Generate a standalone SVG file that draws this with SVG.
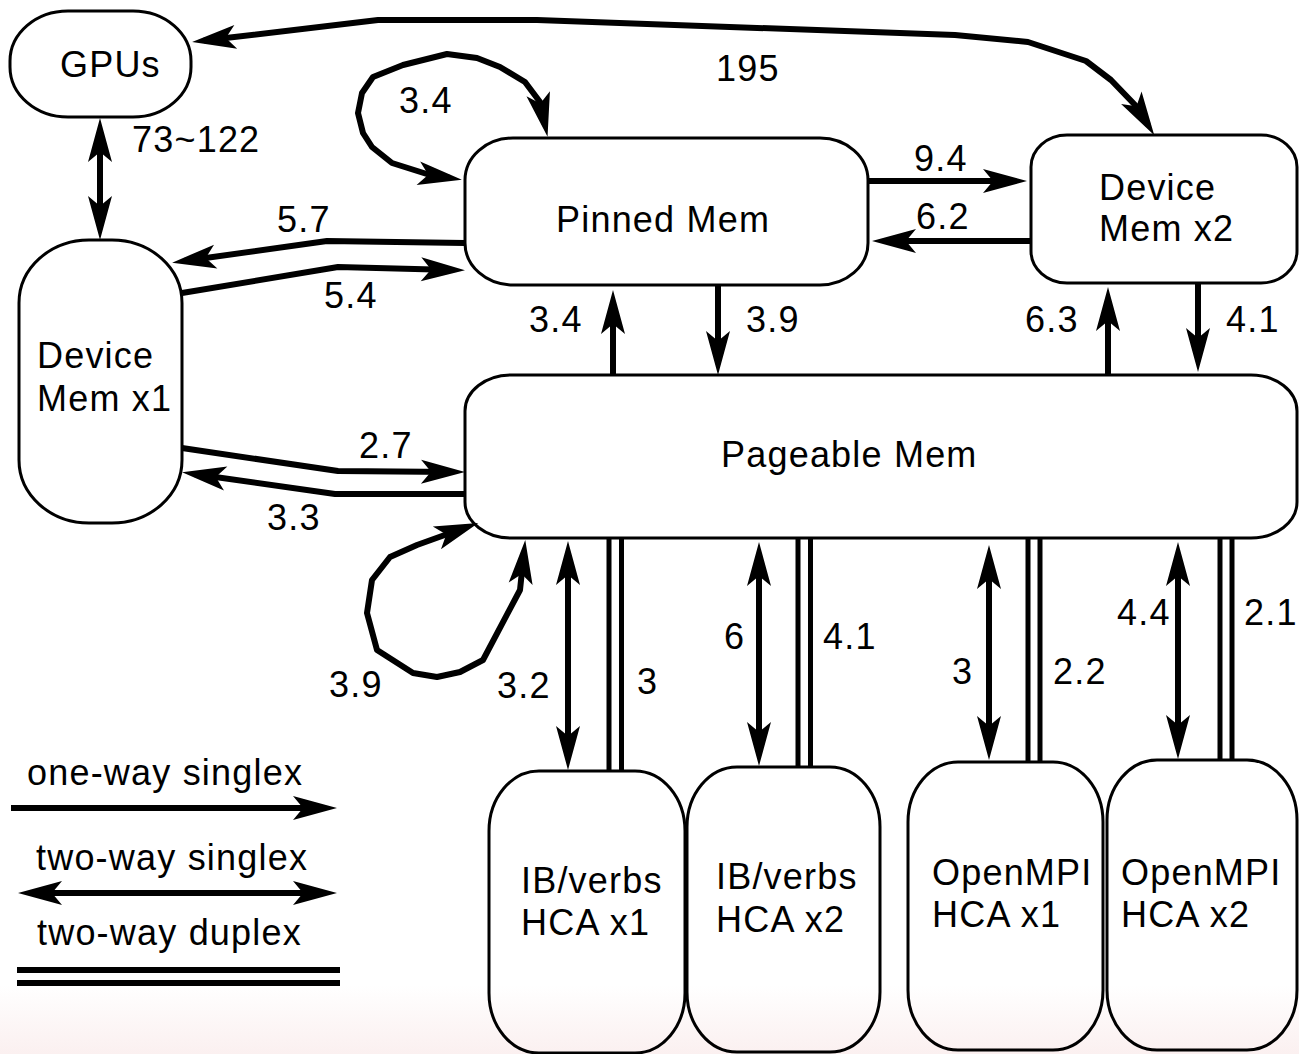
<svg xmlns="http://www.w3.org/2000/svg" width="1299" height="1054" viewBox="0 0 1299 1054">
<style>
.node{fill:none;stroke:#000;stroke-width:3}
.t{font-family:"Liberation Sans",Arial,sans-serif;font-size:36px;fill:#000;letter-spacing:1.2px}
.c{fill:none;stroke:#000;stroke-width:6;stroke-linejoin:round}
.d{fill:none;stroke:#000;stroke-width:5}
</style>
<defs>
<marker id="ah" markerUnits="userSpaceOnUse" markerWidth="44" markerHeight="26" viewBox="0 0 44 26" refX="32" refY="13" orient="auto-start-reverse" overflow="visible">
<path d="M0,1 L44,13 L0,25 L10,13 Z" fill="#000"/>
</marker>
<linearGradient id="band" x1="0" y1="0" x2="0" y2="1">
<stop offset="0" stop-color="#fff"/>
<stop offset="1" stop-color="#fbf0f0"/>
</linearGradient>
</defs>
<rect x="0" y="0" width="1299" height="1054" fill="#fff"/>
<rect x="0" y="985" width="1299" height="69" fill="url(#band)"/>

<g id="gpus"><rect class="node" x="10" y="11" width="181" height="106" rx="58" ry="50"/><text class="t" x="60" y="77">GPUs</text></g>
<g id="devmem1"><rect class="node" x="19" y="240" width="163" height="283" rx="70" ry="63"/><text class="t" x="37" y="368">Device</text><text class="t" x="37" y="411">Mem x1</text></g>
<g id="pinned"><rect class="node" x="465" y="138" width="403" height="147" rx="48" ry="42"/><text class="t" x="556" y="232">Pinned Mem</text></g>
<g id="devmem2"><rect class="node" x="1031" y="135" width="266" height="148" rx="36" ry="32"/><text class="t" x="1099" y="200">Device</text><text class="t" x="1099" y="241">Mem x2</text></g>
<g id="pageable"><rect class="node" x="465" y="375" width="832" height="163" rx="46" ry="36"/><text class="t" x="721" y="467">Pageable Mem</text></g>
<g id="ib1"><rect class="node" x="489" y="771" width="196" height="282" rx="50" ry="60"/><text class="t" x="521" y="893">IB/verbs</text><text class="t" x="521" y="935">HCA x1</text></g>
<g id="ib2"><rect class="node" x="687" y="767" width="193" height="285" rx="50" ry="60"/><text class="t" x="716" y="889">IB/verbs</text><text class="t" x="716" y="932">HCA x2</text></g>
<g id="mpi1"><rect class="node" x="908" y="762" width="195" height="288" rx="50" ry="60"/><text class="t" x="932" y="885">OpenMPI</text><text class="t" x="932" y="927">HCA x1</text></g>
<g id="mpi2"><rect class="node" x="1107" y="760" width="190" height="290" rx="50" ry="60"/><text class="t" x="1121" y="885">OpenMPI</text><text class="t" x="1121" y="927">HCA x2</text></g>

<g id="connectors">
<path class="c" d="M100,130 L100,228" marker-start="url(#ah)" marker-end="url(#ah)"/>
<path class="c" d="M204,40.6 L378,20 L537,20 L955,35 L1028,42 L1086,61 L1111,80 L1137,107 L1148,125" marker-start="url(#ah)" marker-end="url(#ah)"/>
<path class="c" d="M545,125 L540,102 L525,82 L500,67 L477,58 L447,54 L403,65 L373,77 L362,93 L358,113 L363,133 L372,147 L392,163 L430,175 L450,178" marker-start="url(#ah)" marker-end="url(#ah)"/>
<path class="c" d="M868,181 L1015,181" marker-end="url(#ah)"/>
<path class="c" d="M1031,241 L884,241" marker-end="url(#ah)"/>
<path class="c" d="M465,243 L327,241 L184,261" marker-end="url(#ah)"/>
<path class="c" d="M182,293 L338,267 L453,270" marker-end="url(#ah)"/>
<path class="c" d="M182,448 L338,471 L453,472" marker-end="url(#ah)"/>
<path class="c" d="M465,494 L335,494 L194,474" marker-end="url(#ah)"/>
<path class="c" d="M613,375 L613,302" marker-end="url(#ah)"/>
<path class="c" d="M718,285 L718,363" marker-end="url(#ah)"/>
<path class="c" d="M1108,375 L1108,299" marker-end="url(#ah)"/>
<path class="c" d="M1198,283 L1198,360" marker-end="url(#ah)"/>
<path class="c" d="M467,527 L417,545 L390,557 L372,580 L367,613 L377,650 L413,673 L437,677 L460,672 L483,660 L520,590 L524,552" marker-start="url(#ah)" marker-end="url(#ah)"/>
<path class="c" d="M568,553 L568,758" marker-start="url(#ah)" marker-end="url(#ah)"/>
<path class="d" d="M609,538 L609,771 M621.5,538 L621.5,771"/>
<path class="c" d="M759,554 L759,754" marker-start="url(#ah)" marker-end="url(#ah)"/>
<path class="d" d="M798,538 L798,767 M810.5,538 L810.5,767"/>
<path class="c" d="M989,557 L989,748" marker-start="url(#ah)" marker-end="url(#ah)"/>
<path class="d" d="M1028,538 L1028,762 M1040,538 L1040,762"/>
<path class="c" d="M1178,554 L1178,747" marker-start="url(#ah)" marker-end="url(#ah)"/>
<path class="d" d="M1220,538 L1220,760 M1232,538 L1232,760"/>
</g>

<g id="labels">
<text class="t" x="132" y="152">73~122</text>
<text class="t" x="716" y="81">195</text>
<text class="t" x="399" y="113">3.4</text>
<text class="t" x="914" y="171">9.4</text>
<text class="t" x="916" y="229">6.2</text>
<text class="t" x="277" y="232">5.7</text>
<text class="t" x="324" y="308">5.4</text>
<text class="t" x="529" y="332">3.4</text>
<text class="t" x="746" y="332">3.9</text>
<text class="t" x="1025" y="332">6.3</text>
<text class="t" x="1226" y="332">4.1</text>
<text class="t" x="359" y="458">2.7</text>
<text class="t" x="267" y="530">3.3</text>
<text class="t" x="329" y="697">3.9</text>
<text class="t" x="497" y="698">3.2</text>
<text class="t" x="637" y="694">3</text>
<text class="t" x="724" y="649">6</text>
<text class="t" x="823" y="649">4.1</text>
<text class="t" x="952" y="684">3</text>
<text class="t" x="1053" y="684">2.2</text>
<text class="t" x="1117" y="625">4.4</text>
<text class="t" x="1244" y="625">2.1</text>
</g>

<g id="legend">
<text class="t" x="27" y="785">one-way singlex</text>
<path class="c" d="M11,808 L325,808" marker-end="url(#ah)"/>
<text class="t" x="36" y="870">two-way singlex</text>
<path class="c" d="M30,893 L325,893" marker-start="url(#ah)" marker-end="url(#ah)"/>
<text class="t" x="37" y="945">two-way duplex</text>
<path class="c" d="M17,970 L340,970 M17,983 L340,983"/>
</g>
</svg>
